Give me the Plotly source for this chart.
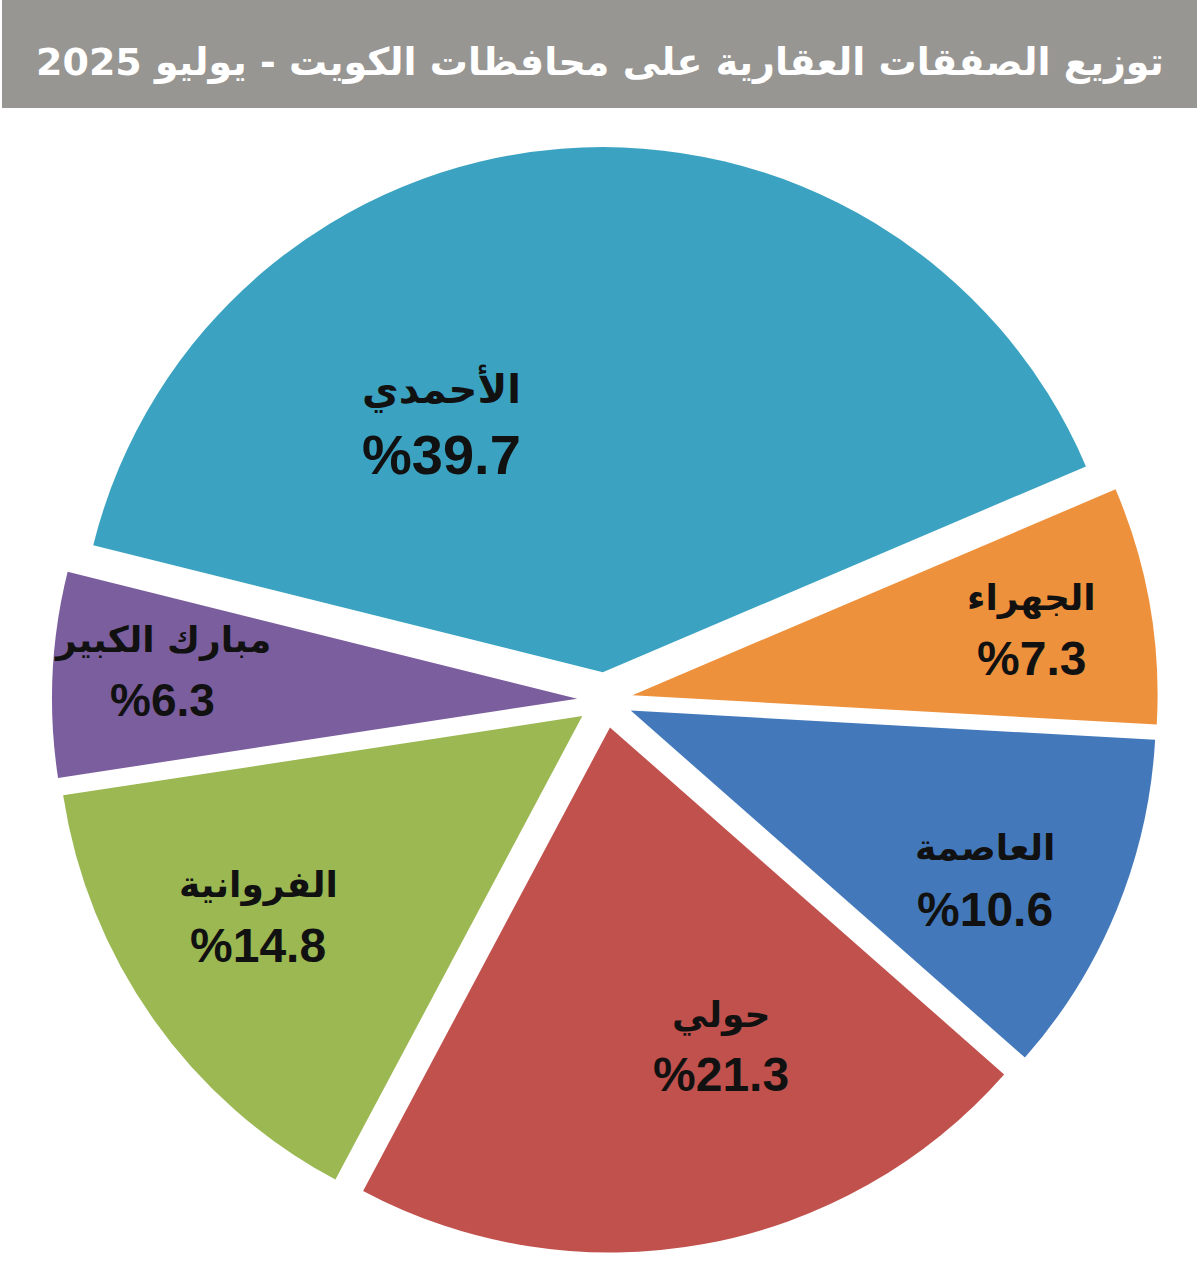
import math
import plotly.graph_objects as go

# Real-estate deals by governorate, Kuwait - July 2025 (share of deals, %)
governorates = ["الأحمدي", "الجهراء", "العاصمة", "حولي", "الفروانية", "مبارك الكبير"]
shares = [39.7, 7.3, 10.6, 21.3, 14.8, 6.3]
colors = ["#3BA3C1", "#EE913C", "#4379BA", "#C1514D", "#9BB853", "#7B5E9E"]
title_text = "توزيع الصفقات العقارية على محافظات الكويت - يوليو 2025"

W, H = 1200, 1280
ROTATION = -76          # start angle of the first slice, clockwise from 12 o'clock
PULL = 0.053
# pie box in pixels (square)
BOX_X0, BOX_X1 = 52, 1158
BOX_Y0, BOX_Y1 = 147, 1253

fig = go.Figure(
    go.Pie(
        labels=governorates,
        values=shares,
        marker=dict(colors=colors, line=dict(width=0)),
        sort=False,
        direction="clockwise",
        rotation=ROTATION,
        pull=[PULL] * len(shares),
        textinfo="none",
        hoverinfo="label+value",
        showlegend=False,
        domain=dict(
            x=[BOX_X0 / W, BOX_X1 / W],
            y=[1 - BOX_Y1 / H, 1 - BOX_Y0 / H],
        ),
    )
)

# label placement: radial distance (fraction of radius) and angular nudge (deg)
label_radius = [0.616, 0.823, 0.800, 0.693, 0.777, 0.845]
label_nudge = [-25.9, 0.4, 2.9, -8.3, 3.5, 1.2]
name_sizes = [40, 36, 36, 36, 36, 36]
pct_sizes = [56, 48, 48, 48, 48, 46]
half_gaps = [33, 30, 31, 30, 30, 30]

cx = (BOX_X0 + BOX_X1) / 2
cy = (BOX_Y0 + BOX_Y1) / 2
R = (BOX_X1 - BOX_X0) / (2 * (1 + PULL))
total = sum(shares)
start = ROTATION
annotations = []
for name, v, rf, nudge, ns, ps, hg in zip(governorates, shares, label_radius,
                                          label_nudge, name_sizes, pct_sizes,
                                          half_gaps):
    span = 360 * v / total
    mid = start + span / 2 + nudge
    start += span
    a = math.radians(mid)
    px = cx + rf * R * math.sin(a)
    py = cy - rf * R * math.cos(a)
    annotations.append(dict(
        x=px / W, y=1 - (py - hg) / H, xref="paper", yref="paper",
        text=f"<b>{name}</b>", showarrow=False,
        font=dict(family="DejaVu Sans", size=ns, color="#111111"),
        xanchor="center", yanchor="middle",
    ))
    annotations.append(dict(
        x=px / W, y=1 - (py + hg) / H, xref="paper", yref="paper",
        text=f"<b>%{v}</b>", showarrow=False,
        font=dict(family="Liberation Sans, Arial", size=ps, color="#111111"),
        xanchor="center", yanchor="middle",
    ))

# title banner
annotations.append(dict(
    x=0.5, y=1 - 62 / H, xref="paper", yref="paper",
    text=f"<b>{title_text}</b>", showarrow=False,
    font=dict(family="DejaVu Sans", size=38, color="white"),
    xanchor="center", yanchor="middle",
))

fig.update_layout(
    width=W, height=H,
    margin=dict(l=0, r=0, t=0, b=0),
    paper_bgcolor="white",
    plot_bgcolor="white",
    shapes=[dict(
        type="rect", xref="paper", yref="paper",
        x0=2 / W, x1=1197 / W, y0=1 - 108 / H, y1=1,
        fillcolor="#989693", line=dict(width=0), layer="below",
    )],
    annotations=annotations,
)

fig.write_html("out.html")
